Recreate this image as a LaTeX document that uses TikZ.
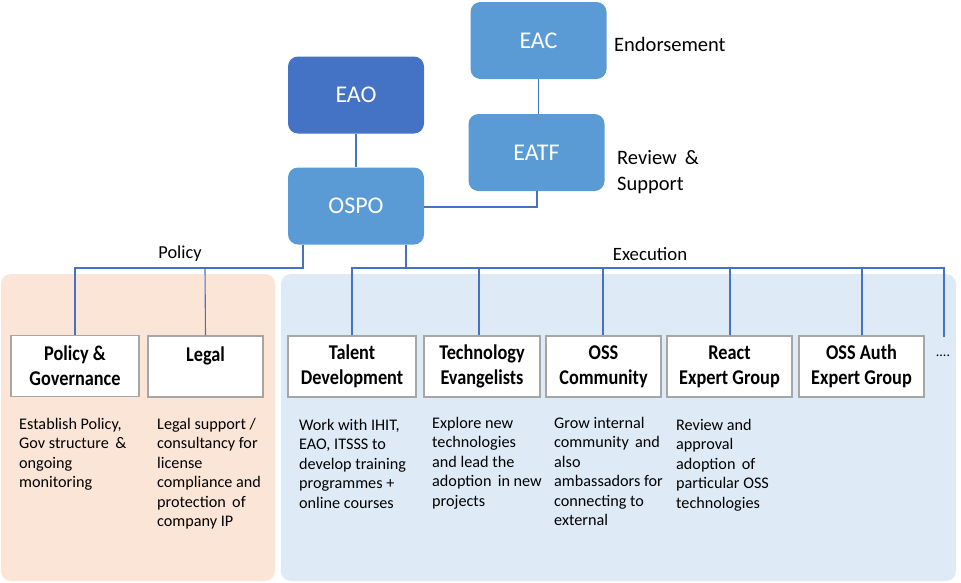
\documentclass[tikz,border=0pt]{standalone}
\usepackage{fontspec}
\setmainfont{Carlito}
\newfontfamily\headfont[FakeStretch=0.87]{Carlito Bold}
\definecolor{topblue}{HTML}{5B9BD5}
\definecolor{darkblue}{HTML}{4472C4}
\definecolor{linecol}{HTML}{4472C4}
\definecolor{peach}{HTML}{FBE5D6}
\definecolor{paleblue}{HTML}{DEEBF7}
\definecolor{boxedge}{HTML}{A6A6A6}
\begin{document}
\begin{tikzpicture}[x=1pt,y=-1pt,
  topbox/.style={rounded corners=10pt, fill=topblue, draw=none, text=white, minimum width=136pt, minimum height=77pt, inner sep=0pt, font=\fontsize{24}{28}\selectfont},
  unitbox/.style={draw=boxedge, line width=1.2pt, fill=white, minimum height=61pt, inner sep=0pt, align=center, font=\headfont\fontsize{21}{25}\selectfont},
  desc/.style={anchor=north west, inner sep=0pt, align=left, font=\fontsize{16.2}{19.5}\selectfont},
  lbl/.style={anchor=west, inner sep=0pt, align=left, font=\fontsize{20.5}{26}\selectfont},
  conn/.style={draw=linecol, line width=1.1pt}
]
\useasboundingbox (0,0) rectangle (961,582);
% panels
\fill[peach, rounded corners=10pt] (1,274) rectangle (275,581);
\fill[paleblue, rounded corners=10pt] (281,274) rectangle (956,581);

% top nodes
\node[topbox] (eac) at (538.5,40.5) {EAC};
\node[topbox, fill=darkblue] (eao) at (356,95) {EAO};
\node[topbox] (eatf) at (536.5,152.5) {EATF};
\node[topbox] (ospo) at (356,206) {OSPO};

\node[lbl] (endo) at (614,44) {Endorsement};
\node[lbl, anchor=north west] (revsup) at (617,150) {Review \,\&\\Support};

\node[inner sep=0pt, font=\fontsize{18.3}{20}\selectfont] (policy) at (180,254) {Policy};
\node[inner sep=0pt, font=\fontsize{18.8}{20}\selectfont] (exec) at (650,254) {Execution};

% unit boxes
\node[unitbox, minimum width=128pt] (pg) at (75,366) {Policy \&\\Governance};
\node[unitbox, minimum width=115pt, text depth=25pt] (legal) at (205.5,366.5) {Legal};
\node[unitbox, minimum width=128pt] (talent) at (352,366.5) {Talent\\Development};
\node[unitbox, minimum width=116pt] (tech) at (482,366.5) {Technology\\Evangelists};
\node[unitbox, minimum width=115pt] (oss) at (603.5,366.5) {OSS\\Community};
\node[unitbox, minimum width=125pt] (react) at (729.5,366.5) {React\\Expert Group};
\node[unitbox, minimum width=125pt] (auth) at (861.5,366.5) {OSS Auth\\Expert Group};
\node[inner sep=0pt, font=\fontsize{14}{16}\selectfont] (dots) at (943,356) {....};
\coordinate (dotstop) at (944,337);

% descriptions
\node[desc] (d1) at (19,418) {Establish Policy,\\Gov structure \,\&\\ongoing\\monitoring};
\node[desc] (d2) at (157,418) {Legal support /\\consultancy for\\license\\compliance and\\protection \,of\\company IP};
\node[desc] (d3) at (299,419) {Work with IHIT,\\EAO, ITSSS to\\develop training\\programmes +\\online courses};
\node[desc] (d4) at (432,417) {Explore new\\technologies\\and lead the\\adoption \,in new\\projects};
\node[desc] (d5) at (554,417) {Grow internal\\community \,and\\also\\ambassadors for\\connecting to\\external};
\node[desc] (d6) at (676,419) {Review and\\approval\\adoption \,of\\particular OSS\\technologies};

% connectors
\draw[conn] (eac.south) -- (eatf.north -| eac.south);
\draw[conn] (eao) -- (ospo);
\draw[conn] (ospo.east |- 0,207) -- (537,207) -- (eatf.south -| 537,0);
\draw[conn] (ospo.south -| 303,0) -- (303,268) -- (75,268) -- (pg.north);
\draw[conn] (205,268) -- (legal.north);
\draw[conn] (ospo.south -| 406,0) -- (406,268);
\draw[conn] (talent.north) -- (352,268) -- (944,268) -- (dotstop);
\draw[conn] (479,268) -- (tech.north -| 479,0);
\draw[conn] (603,268) -- (oss.north -| 603,0);
\draw[conn] (730,268) -- (react.north -| 730,0);
\draw[conn] (862,268) -- (auth.north -| 862,0);
\end{tikzpicture}
\end{document}
